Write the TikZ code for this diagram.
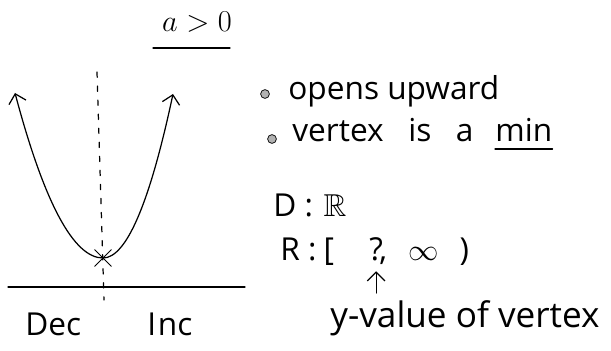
\documentclass[tikz,border=0pt]{standalone}
\usepackage{fontspec}
\usepackage{amssymb}
\usetikzlibrary{arrows.meta,shapes.misc}
\newfontfamily\handfont{Open Sans}

\begin{document}
\begin{tikzpicture}[
  x=0.02cm, y=-0.02cm,
  pen/.style={line width=0.7pt, line cap=round},
  hand/.style={font=\handfont\fontsize{18}{20}\selectfont, inner sep=0pt, anchor=base west},
  bullet/.style={circle, draw, fill=gray!60, inner sep=0pt, minimum size=5pt},
  axis dash/.style={pen, dash pattern=on 3pt off 5pt},
  vtx mark/.style={cross out, draw, line width=0.6pt, minimum size=9pt, inner sep=0pt},
  barb/.style={-{Straight Barb[length=5pt,width=10pt]}}
]
  \useasboundingbox (0,0) rectangle (611,351);

  % Title
  \node[font=\fontsize{16}{18}\selectfont, inner sep=0pt, anchor=base] (title) at (197,32) {$a>0$};
  \coordinate (ul1) at (153,48);
  \coordinate (ul2) at (230,48);
  \draw[pen] (ul1) -- (ul2);

  % Axes
  \coordinate (xl) at (8,287);
  \coordinate (xr) at (245,287);
  \coordinate (st) at (97,72);
  \coordinate (sb) at (104,300);
  \draw[pen] (xl) -- (xr);
  \draw[axis dash] (st) -- (sb);

  % Parabola
  \node[vtx mark] (vtx) at (103,258) {};
  \coordinate (lt) at (15,93);
  \coordinate (rt) at (173,94);
  \draw[pen, barb] (vtx.center) .. controls (73.7,258) and (44.3,203) .. (lt);
  \draw[pen, barb] (vtx.center) .. controls (126.3,258) and (149.7,203.3) .. (rt);

  % Dec / Inc
  \node[hand] (dec) at (25,335) {Dec};
  \node[hand] (inc) at (147,335) {I\hspace{1pt}nc};

  % Notes
  \node[bullet] (b1) at (265,94) {};
  \node[hand] (opens) at (288,100) {opens upward};
  \node[bullet] (b2) at (272,139) {};
  \node[hand] (vert) at (292,142) {vertex\hspace{14pt}is\hspace{14pt}a};
  \node[hand] (mn) at (495,142) {min};
  \draw[pen] ([yshift=-4pt]mn.base west) -- ([yshift=-4pt]mn.base east);

  % Domain and range
  \node[hand] (dom) at (273,216) {D :\hspace{6pt}$\mathbb{R}$};
  \node[hand] (rng) at (280,260) {R :\hspace{4pt}[};
  \node[hand] (qm) at (369,260) {?};
  \node[hand] (rest) at (379,260) {,\hspace{12pt}$\infty$\hspace{12pt})};
  \coordinate (qb) at (375,293);
  \node[hand, font=\handfont\fontsize{20}{22}\selectfont] (yval) at (330,327) {y-value of vertex};
  \draw[pen, barb] (qm.south |- qb) -- ([yshift=-6pt]qm.south);
\end{tikzpicture}
\end{document}
